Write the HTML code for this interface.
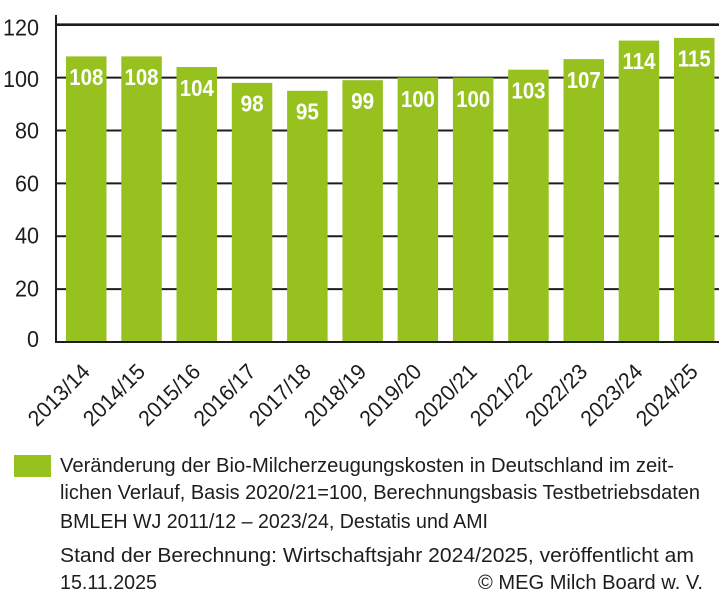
<!DOCTYPE html>
<html><head><meta charset="utf-8"><style>
html,body{margin:0;padding:0;background:#fff;}
svg{display:block;}
text{font-family:"Liberation Sans",sans-serif;}
</style></head><body>
<svg width="724" height="600" viewBox="0 0 724 600" xmlns="http://www.w3.org/2000/svg">
<rect width="724" height="600" fill="#fff"/>
<!-- gridlines -->
<g stroke="#1d1d1b">
<line x1="56" y1="24.7" x2="719" y2="24.7" stroke-width="2.6"/>
<line x1="56" y1="77.6" x2="719" y2="77.6" stroke-width="2"/>
<line x1="56" y1="130.5" x2="719" y2="130.5" stroke-width="2"/>
<line x1="56" y1="183.4" x2="719" y2="183.4" stroke-width="2"/>
<line x1="56" y1="236.2" x2="719" y2="236.2" stroke-width="2"/>
<line x1="56" y1="289.1" x2="719" y2="289.1" stroke-width="2"/>
</g>
<!-- bars -->
<g fill="#96c11f">
<rect x="66" y="56.4" width="40.5" height="285.6"/>
<rect x="121.3" y="56.4" width="40.5" height="285.6"/>
<rect x="176.5" y="67.0" width="40.5" height="275"/>
<rect x="231.8" y="82.9" width="40.5" height="259.1"/>
<rect x="287.1" y="90.8" width="40.5" height="251.2"/>
<rect x="342.4" y="80.2" width="40.5" height="261.8"/>
<rect x="397.6" y="77.6" width="40.5" height="264.4"/>
<rect x="452.9" y="77.6" width="40.5" height="264.4"/>
<rect x="508.2" y="69.7" width="40.5" height="272.3"/>
<rect x="563.5" y="59.1" width="40.5" height="282.9"/>
<rect x="618.7" y="40.6" width="40.5" height="301.4"/>
<rect x="674" y="37.9" width="40.5" height="304.1"/>
</g>
<!-- axes -->
<line x1="56" y1="15" x2="56" y2="343" stroke="#1d1d1b" stroke-width="2"/>
<line x1="55" y1="342" x2="719" y2="342" stroke="#1d1d1b" stroke-width="2"/>
<!-- bar labels -->
<g fill="#fff" font-weight="bold" font-size="23" text-anchor="middle">
<text x="86.3" y="85.2" textLength="34" lengthAdjust="spacingAndGlyphs">108</text>
<text x="141.5" y="85.2" textLength="34" lengthAdjust="spacingAndGlyphs">108</text>
<text x="196.8" y="95.8" textLength="34" lengthAdjust="spacingAndGlyphs">104</text>
<text x="252.1" y="111.7" textLength="23" lengthAdjust="spacingAndGlyphs">98</text>
<text x="307.4" y="119.6" textLength="23" lengthAdjust="spacingAndGlyphs">95</text>
<text x="362.6" y="109.0" textLength="23" lengthAdjust="spacingAndGlyphs">99</text>
<text x="417.9" y="106.8" textLength="34" lengthAdjust="spacingAndGlyphs">100</text>
<text x="473.2" y="106.8" textLength="34" lengthAdjust="spacingAndGlyphs">100</text>
<text x="528.5" y="98.5" textLength="34" lengthAdjust="spacingAndGlyphs">103</text>
<text x="583.7" y="87.9" textLength="34" lengthAdjust="spacingAndGlyphs">107</text>
<text x="639.0" y="68.9" textLength="33" lengthAdjust="spacingAndGlyphs">114</text>
<text x="694.3" y="66.4" textLength="33" lengthAdjust="spacingAndGlyphs">115</text>
</g>
<!-- y tick labels -->
<g fill="#1d1d1b" font-size="23" text-anchor="end">
<text x="39" y="35.5" textLength="36" lengthAdjust="spacingAndGlyphs">120</text>
<text x="39" y="87" textLength="36" lengthAdjust="spacingAndGlyphs">100</text>
<text x="39" y="138.5" textLength="24" lengthAdjust="spacingAndGlyphs">80</text>
<text x="39" y="191.5" textLength="24" lengthAdjust="spacingAndGlyphs">60</text>
<text x="39" y="243.5" textLength="24" lengthAdjust="spacingAndGlyphs">40</text>
<text x="39" y="296.7" textLength="24" lengthAdjust="spacingAndGlyphs">20</text>
<text x="39" y="347" textLength="12" lengthAdjust="spacingAndGlyphs">0</text>
</g>
<!-- x labels -->
<g fill="#1d1d1b" font-size="22" text-anchor="end">
<text transform="translate(91.3,373) rotate(-45)" textLength="77" lengthAdjust="spacingAndGlyphs">2013/14</text>
<text transform="translate(146.5,373) rotate(-45)" textLength="77" lengthAdjust="spacingAndGlyphs">2014/15</text>
<text transform="translate(201.8,373) rotate(-45)" textLength="77" lengthAdjust="spacingAndGlyphs">2015/16</text>
<text transform="translate(257.1,373) rotate(-45)" textLength="77" lengthAdjust="spacingAndGlyphs">2016/17</text>
<text transform="translate(312.4,373) rotate(-45)" textLength="77" lengthAdjust="spacingAndGlyphs">2017/18</text>
<text transform="translate(367.6,373) rotate(-45)" textLength="77" lengthAdjust="spacingAndGlyphs">2018/19</text>
<text transform="translate(422.9,373) rotate(-45)" textLength="77" lengthAdjust="spacingAndGlyphs">2019/20</text>
<text transform="translate(478.2,373) rotate(-45)" textLength="77" lengthAdjust="spacingAndGlyphs">2020/21</text>
<text transform="translate(533.5,373) rotate(-45)" textLength="77" lengthAdjust="spacingAndGlyphs">2021/22</text>
<text transform="translate(588.7,373) rotate(-45)" textLength="77" lengthAdjust="spacingAndGlyphs">2022/23</text>
<text transform="translate(644.0,373) rotate(-45)" textLength="77" lengthAdjust="spacingAndGlyphs">2023/24</text>
<text transform="translate(699.3,373) rotate(-45)" textLength="77" lengthAdjust="spacingAndGlyphs">2024/25</text>
</g>
<!-- legend -->
<rect x="14" y="455" width="37" height="22" fill="#96c11f"/>
<g fill="#1d1d1b" font-size="20.5">
<text x="60" y="472" textLength="614" lengthAdjust="spacingAndGlyphs">Veränderung der Bio-Milcherzeugungskosten in Deutschland im zeit-</text>
<text x="60" y="499" textLength="640" lengthAdjust="spacingAndGlyphs">lichen Verlauf, Basis 2020/21=100, Berechnungsbasis Testbetriebsdaten</text>
<text x="60" y="528" textLength="428" lengthAdjust="spacingAndGlyphs">BMLEH WJ 2011/12 – 2023/24, Destatis und AMI</text>
<text x="60" y="562" textLength="634" lengthAdjust="spacingAndGlyphs">Stand der Berechnung: Wirtschaftsjahr 2024/2025, veröffentlicht am</text>
<text x="60" y="589" textLength="97" lengthAdjust="spacingAndGlyphs">15.11.2025</text>
<text x="478" y="589" textLength="225" lengthAdjust="spacingAndGlyphs">© MEG Milch Board w. V.</text>
</g>
</svg>
</body></html>
